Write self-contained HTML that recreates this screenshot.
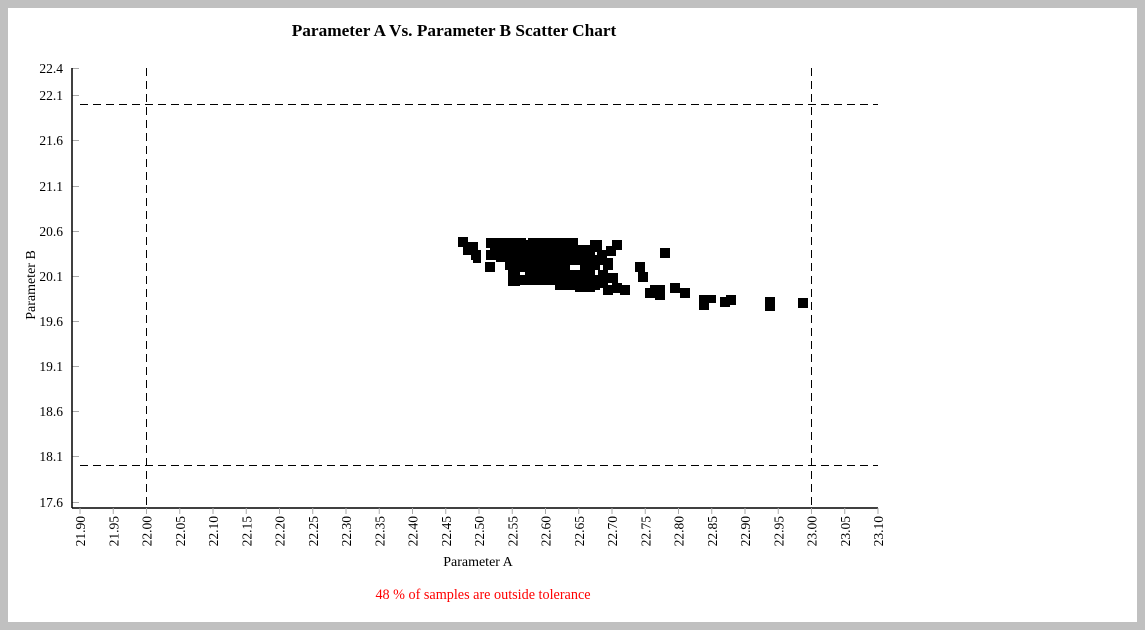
<!DOCTYPE html>
<html><head><meta charset="utf-8"><style>
html,body{margin:0;padding:0;background:#c0c0c0;}
svg{display:block;font-family:"Liberation Serif",serif;}
</style></head><body>
<svg width="1145" height="630" xmlns="http://www.w3.org/2000/svg">
<rect x="0" y="0" width="1145" height="630" fill="#c0c0c0"/>
<rect x="8" y="8" width="1129" height="614" fill="#fff"/>
<text x="454" y="36" text-anchor="middle" font-size="17.3" font-weight="bold">Parameter A Vs. Parameter B Scatter Chart</text>
<g stroke="#aaa" stroke-width="1">
<line x1="72" y1="68.5" x2="79" y2="68.5"/><line x1="72" y1="95.5" x2="79" y2="95.5"/><line x1="72" y1="140.5" x2="79" y2="140.5"/><line x1="72" y1="186.5" x2="79" y2="186.5"/><line x1="72" y1="231.5" x2="79" y2="231.5"/><line x1="72" y1="276.5" x2="79" y2="276.5"/><line x1="72" y1="321.5" x2="79" y2="321.5"/><line x1="72" y1="366.5" x2="79" y2="366.5"/><line x1="72" y1="411.5" x2="79" y2="411.5"/><line x1="72" y1="456.5" x2="79" y2="456.5"/><line x1="72" y1="502.5" x2="79" y2="502.5"/>
</g>
<g font-size="13.5" text-anchor="end">
<text x="63" y="73">22.4</text><text x="63" y="100">22.1</text><text x="63" y="145">21.6</text><text x="63" y="191">21.1</text><text x="63" y="236">20.6</text><text x="63" y="281">20.1</text><text x="63" y="326">19.6</text><text x="63" y="371">19.1</text><text x="63" y="416">18.6</text><text x="63" y="461">18.1</text><text x="63" y="507">17.6</text>
</g>
<line x1="72" y1="68" x2="72" y2="508" stroke="#000" stroke-width="1.5"/>
<line x1="72" y1="508" x2="878" y2="508" stroke="#000" stroke-width="1.5"/>
<line x1="146.5" y1="68" x2="146.5" y2="507" stroke="#000" stroke-dasharray="8,5"/>
<line x1="811.5" y1="68" x2="811.5" y2="507" stroke="#000" stroke-dasharray="8,5"/>
<line x1="80" y1="104.5" x2="878" y2="104.5" stroke="#000" stroke-dasharray="8,5"/>
<line x1="80" y1="465.5" x2="878" y2="465.5" stroke="#000" stroke-dasharray="8,5"/>
<text x="35" y="285" font-size="14" text-anchor="middle" transform="rotate(-90 35 285)">Parameter B</text>
<text x="478" y="566" font-size="14" text-anchor="middle">Parameter A</text>
<text x="483" y="599" font-size="14.2" text-anchor="middle" fill="#f00">48 % of samples are outside tolerance</text>
<g font-size="13.5">
<line x1="80" y1="508" x2="80" y2="514" stroke="#aaa"/><text transform="translate(85,516) rotate(-90)" text-anchor="end">21.90</text>
<line x1="113.25" y1="508" x2="113.25" y2="514" stroke="#aaa"/><text transform="translate(118.25,516) rotate(-90)" text-anchor="end">21.95</text>
<line x1="146.5" y1="508" x2="146.5" y2="514" stroke="#aaa"/><text transform="translate(151.5,516) rotate(-90)" text-anchor="end">22.00</text>
<line x1="179.75" y1="508" x2="179.75" y2="514" stroke="#aaa"/><text transform="translate(184.75,516) rotate(-90)" text-anchor="end">22.05</text>
<line x1="213" y1="508" x2="213" y2="514" stroke="#aaa"/><text transform="translate(218,516) rotate(-90)" text-anchor="end">22.10</text>
<line x1="246.25" y1="508" x2="246.25" y2="514" stroke="#aaa"/><text transform="translate(251.25,516) rotate(-90)" text-anchor="end">22.15</text>
<line x1="279.5" y1="508" x2="279.5" y2="514" stroke="#aaa"/><text transform="translate(284.5,516) rotate(-90)" text-anchor="end">22.20</text>
<line x1="312.75" y1="508" x2="312.75" y2="514" stroke="#aaa"/><text transform="translate(317.75,516) rotate(-90)" text-anchor="end">22.25</text>
<line x1="346" y1="508" x2="346" y2="514" stroke="#aaa"/><text transform="translate(351,516) rotate(-90)" text-anchor="end">22.30</text>
<line x1="379.25" y1="508" x2="379.25" y2="514" stroke="#aaa"/><text transform="translate(384.25,516) rotate(-90)" text-anchor="end">22.35</text>
<line x1="412.5" y1="508" x2="412.5" y2="514" stroke="#aaa"/><text transform="translate(417.5,516) rotate(-90)" text-anchor="end">22.40</text>
<line x1="445.75" y1="508" x2="445.75" y2="514" stroke="#aaa"/><text transform="translate(450.75,516) rotate(-90)" text-anchor="end">22.45</text>
<line x1="479" y1="508" x2="479" y2="514" stroke="#aaa"/><text transform="translate(484,516) rotate(-90)" text-anchor="end">22.50</text>
<line x1="512.25" y1="508" x2="512.25" y2="514" stroke="#aaa"/><text transform="translate(517.25,516) rotate(-90)" text-anchor="end">22.55</text>
<line x1="545.5" y1="508" x2="545.5" y2="514" stroke="#aaa"/><text transform="translate(550.5,516) rotate(-90)" text-anchor="end">22.60</text>
<line x1="578.75" y1="508" x2="578.75" y2="514" stroke="#aaa"/><text transform="translate(583.75,516) rotate(-90)" text-anchor="end">22.65</text>
<line x1="612" y1="508" x2="612" y2="514" stroke="#aaa"/><text transform="translate(617,516) rotate(-90)" text-anchor="end">22.70</text>
<line x1="645.25" y1="508" x2="645.25" y2="514" stroke="#aaa"/><text transform="translate(650.25,516) rotate(-90)" text-anchor="end">22.75</text>
<line x1="678.5" y1="508" x2="678.5" y2="514" stroke="#aaa"/><text transform="translate(683.5,516) rotate(-90)" text-anchor="end">22.80</text>
<line x1="711.75" y1="508" x2="711.75" y2="514" stroke="#aaa"/><text transform="translate(716.75,516) rotate(-90)" text-anchor="end">22.85</text>
<line x1="745" y1="508" x2="745" y2="514" stroke="#aaa"/><text transform="translate(750,516) rotate(-90)" text-anchor="end">22.90</text>
<line x1="778.25" y1="508" x2="778.25" y2="514" stroke="#aaa"/><text transform="translate(783.25,516) rotate(-90)" text-anchor="end">22.95</text>
<line x1="811.5" y1="508" x2="811.5" y2="514" stroke="#aaa"/><text transform="translate(816.5,516) rotate(-90)" text-anchor="end">23.00</text>
<line x1="844.75" y1="508" x2="844.75" y2="514" stroke="#aaa"/><text transform="translate(849.75,516) rotate(-90)" text-anchor="end">23.05</text>
<line x1="878" y1="508" x2="878" y2="514" stroke="#aaa"/><text transform="translate(883,516) rotate(-90)" text-anchor="end">23.10</text>
</g>
<g fill="#000">
<rect x="458" y="237" width="10" height="10"/><rect x="463" y="245" width="10" height="10"/><rect x="468" y="242" width="10" height="10"/><rect x="471" y="250" width="10" height="10"/><rect x="473" y="253" width="8" height="10"/>
<rect x="486" y="238" width="10" height="10"/><rect x="486" y="250" width="10" height="10"/><rect x="485" y="262" width="10" height="10"/>
<rect x="496" y="238" width="30" height="24"/><rect x="490" y="245" width="12" height="15"/>
<rect x="515" y="240" width="45" height="22"/><rect x="528" y="238" width="40" height="10"/>
<rect x="505" y="255" width="30" height="15"/><rect x="508" y="268" width="12" height="18"/>
<rect x="520" y="260" width="20" height="12"/><rect x="540" y="255" width="30" height="18"/>
<rect x="550" y="238" width="10" height="12"/><rect x="568" y="238" width="10" height="15"/>
<rect x="513" y="275" width="20" height="10"/><rect x="525" y="270" width="70" height="15"/>
<rect x="555" y="275" width="45" height="15"/><rect x="575" y="280" width="20" height="12"/>
<rect x="560" y="245" width="35" height="20"/><rect x="580" y="255" width="20" height="15"/>
<rect x="590" y="240" width="12" height="12"/><rect x="597" y="250" width="10" height="15"/>
<rect x="606" y="246" width="10" height="10"/><rect x="612" y="240" width="10" height="10"/>
<rect x="603" y="258" width="10" height="12"/><rect x="608" y="273" width="10" height="10"/>
<rect x="598" y="270" width="10" height="18"/><rect x="603" y="285" width="10" height="10"/>
<rect x="612" y="283" width="10" height="10"/><rect x="620" y="285" width="10" height="10"/>
<rect x="635" y="262" width="10" height="10"/><rect x="638" y="272" width="10" height="10"/>
<rect x="645" y="288" width="10" height="10"/><rect x="650" y="285" width="15" height="10"/><rect x="655" y="290" width="10" height="10"/>
<rect x="660" y="248" width="10" height="10"/>
<rect x="670" y="283" width="10" height="10"/><rect x="680" y="288" width="10" height="10"/>
<rect x="699" y="295" width="10" height="15"/><rect x="706" y="295" width="10" height="8"/>
<rect x="720" y="297" width="10" height="10"/><rect x="726" y="295" width="10" height="10"/>
<rect x="765" y="297" width="10" height="14"/><rect x="798" y="298" width="10" height="10"/>
</g>
</svg>
</body></html>
